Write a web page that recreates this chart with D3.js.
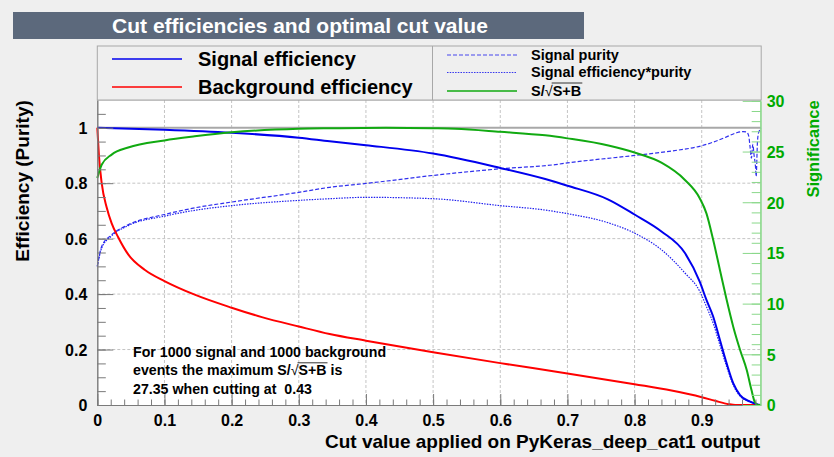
<!DOCTYPE html>
<html>
<head>
<meta charset="utf-8">
<script src="https://cdn.jsdelivr.net/npm/d3@7"></script>
<style>
  html, body { margin: 0; padding: 0; background: #efefef; }
  svg { display: block; font-family: "Liberation Sans", Arial, Helvetica, sans-serif; font-weight: bold; }
</style>
</head>
<body>
<svg id="chart" width="834" height="457"></svg>
<script>
// Signal efficiency vs. cut value
const sigEffCut = [0, 0.1, 0.2, 0.3, 0.346, 0.4, 0.5, 0.6, 0.667, 0.7, 0.761, 0.8, 0.84, 0.875, 0.897, 0.907, 0.917, 0.927, 0.937, 0.947, 0.957, 0.972, 0.982, 0.988];
const sigEff    = [1.0, 0.993, 0.982, 0.964, 0.951, 0.937, 0.907, 0.855, 0.815, 0.791, 0.741, 0.687, 0.626, 0.548, 0.445, 0.379, 0.319, 0.235, 0.151, 0.078, 0.036, 0.012, 0.003, 0.0];

// Background efficiency vs. cut value
const bkgEffCut = [0, 0.0025, 0.0065, 0.014, 0.0214, 0.0313, 0.046, 0.071, 0.1, 0.145, 0.2, 0.245, 0.3, 0.346, 0.4, 0.5, 0.6, 0.7, 0.8, 0.855, 0.9, 0.92, 0.94, 0.95, 0.988];
const bkgEff    = [1.0, 0.897, 0.801, 0.712, 0.655, 0.604, 0.543, 0.487, 0.447, 0.398, 0.351, 0.317, 0.283, 0.256, 0.232, 0.19, 0.151, 0.114, 0.075, 0.052, 0.028, 0.015, 0.003, 0.0, 0.0];

// Signal purity vs. cut value
const purityCut = [0, 0.0065, 0.0214, 0.046, 0.1, 0.145, 0.2, 0.3, 0.346, 0.4, 0.5, 0.6, 0.682, 0.7, 0.8, 0.855, 0.9, 0.917, 0.937, 0.952, 0.962, 0.967, 0.970, 0.972, 0.974, 0.976, 0.978, 0.980, 0.981, 0.983, 0.984, 0.986, 0.988];
const purity    = [0.5, 0.572, 0.614, 0.65, 0.687, 0.711, 0.732, 0.767, 0.785, 0.799, 0.828, 0.852, 0.867, 0.873, 0.9, 0.916, 0.935, 0.948, 0.967, 0.982, 0.986, 0.984, 0.97, 0.93, 0.89, 0.94, 0.9, 0.86, 0.825, 0.95, 0.975, 0.99, 1.0];

// Signal efficiency * purity vs. cut value
const effPurCut = [0, 0.0065, 0.0214, 0.046, 0.1, 0.145, 0.2, 0.3, 0.346, 0.4, 0.5, 0.6, 0.667, 0.7, 0.761, 0.8, 0.84, 0.875, 0.897, 0.907, 0.917, 0.927, 0.937, 0.947, 0.957, 0.972, 0.982, 0.988];
const effPur    = [0.5, 0.566, 0.61, 0.647, 0.681, 0.702, 0.719, 0.738, 0.744, 0.749, 0.744, 0.719, 0.703, 0.69, 0.657, 0.62, 0.56, 0.476, 0.41, 0.355, 0.295, 0.217, 0.139, 0.072, 0.032, 0.012, 0.003, 0.0];

// Significance S/sqrt(S+B) vs. cut value (right axis)
const signifCut = [0, 0.0065, 0.0214, 0.046, 0.1, 0.145, 0.2, 0.3, 0.35, 0.43, 0.5, 0.533, 0.6, 0.667, 0.7, 0.761, 0.8, 0.84, 0.875, 0.897, 0.907, 0.917, 0.927, 0.937, 0.947, 0.957, 0.967, 0.974, 0.979, 0.984, 0.988];
const signif    = [22.4, 23.7, 24.7, 25.4, 26.1, 26.5, 26.9, 27.25, 27.3, 27.35, 27.3, 27.25, 26.95, 26.6, 26.3, 25.6, 24.9, 23.9, 22.2, 20.4, 18.9, 16.3, 13.35, 10.4, 7.7, 5.45, 3.45, 1.5, 0.3, 0.0, 0.0];

// Optimum
const maxSignif = 27.35;
const bestCut = 0.43;
const nSignal = 1000;
const nBackground = 1000;

// Axis ticks
const xTicks = [0, 0.1, 0.2, 0.3, 0.4, 0.5, 0.6, 0.7, 0.8, 0.9];
const yTicks = [0, 0.2, 0.4, 0.6, 0.8, 1];
const sigTicks = [0, 5, 10, 15, 20, 25, 30];

const svg = d3.select("#chart");
const W = 834, H = 457;
const plotL = 97.3, plotR = 760.7, plotT = 100, plotB = 405;

svg.append("rect").attr("width", W).attr("height", H).attr("fill", "#efefef");

const x = d3.scaleLinear().domain([0, 0.9878]).range([plotL, plotR]);
const y = d3.scaleLinear().domain([0, 1.1]).range([plotB, plotT]);
// significance axis: maximum significance sits at efficiency 1
const ys = d3.scaleLinear().domain([0, maxSignif]).range([y(0), y(1)]);

// plot frame
svg.append("rect").attr("x", plotL).attr("y", plotT).attr("width", plotR - plotL).attr("height", plotB - plotT)
  .attr("fill", "#ffffff");

// grid
const grid = svg.append("g").attr("stroke", "#c4c4c4").attr("stroke-width", 1).attr("stroke-dasharray", "3,2");
grid.selectAll("line.gx").data(xTicks.filter(d => d > 0)).join("line")
  .attr("x1", d => x(d)).attr("x2", d => x(d)).attr("y1", plotT).attr("y2", plotB);
grid.selectAll("line.gy").data(yTicks.filter(d => d > 0 && d < 1)).join("line")
  .attr("x1", plotL).attr("x2", plotR).attr("y1", d => y(d)).attr("y2", d => y(d));

// top frame line and the efficiency = 1 line
svg.append("line").attr("x1", plotL).attr("x2", plotR).attr("y1", plotT).attr("y2", plotT)
  .attr("stroke", "#b0b0b0").attr("stroke-width", 1);
svg.append("line").attr("x1", plotL).attr("x2", plotR).attr("y1", y(1)).attr("y2", y(1))
  .attr("stroke", "#a8a8a8").attr("stroke-width", 2);

// curves
function drawCurve(xs, vs, scale, color, width, dash) {
  const pts = xs.map((c, i) => [c, vs[i]]);
  const line = d3.line().x(d => x(d[0])).y(d => scale(d[1])).curve(d3.curveMonotoneX);
  svg.append("path").attr("d", line(pts)).attr("fill", "none")
    .attr("stroke", color).attr("stroke-width", width)
    .attr("stroke-dasharray", dash || null).attr("stroke-linejoin", "round");
}
drawCurve(purityCut, purity, y, "#3030ee", 1.2, "4,2");
drawCurve(effPurCut, effPur, y, "#2020ee", 1.2, "1.5,1.2");
drawCurve(bkgEffCut, bkgEff, y, "#ff0000", 2);
drawCurve(sigEffCut, sigEff, y, "#0000ee", 2);
drawCurve(signifCut, signif, ys, "#11aa11", 2);

// axes
const axisGray = "#7a7a7a";
function styleAxis(g, color) {
  g.selectAll("path.domain").attr("stroke", color);
  g.selectAll(".tick line").attr("stroke", color);
  g.selectAll("text").attr("font-size", 16).attr("font-weight", "bold")
    .attr("font-family", "Liberation Sans, Arial, sans-serif");
}
const minorY = d3.range(0, 22).map(i => i * 0.05);
const gyMinor = svg.append("g").attr("transform", `translate(${plotL},0)`)
  .call(d3.axisLeft(y).tickValues(minorY).tickSize(-8.5).tickSizeOuter(0).tickFormat(""));
styleAxis(gyMinor, axisGray);
const gy = svg.append("g").attr("transform", `translate(${plotL},0)`)
  .call(d3.axisLeft(y).tickValues(yTicks).tickSize(-16).tickSizeOuter(0).tickPadding(10).tickFormat(d => String(d)));
styleAxis(gy, axisGray);
gy.selectAll("text").attr("fill", "#000").attr("dy", "0.36em");

const minorX = d3.range(0, 50).map(i => i * 0.02);
const gxMinor = svg.append("g").attr("transform", `translate(0,${plotB})`)
  .call(d3.axisBottom(x).tickValues(minorX).tickSize(-5.5).tickSizeOuter(0).tickFormat(""));
styleAxis(gxMinor, axisGray);
const gx = svg.append("g").attr("transform", `translate(0,${plotB})`)
  .call(d3.axisBottom(x).tickValues(xTicks).tickSize(-11).tickSizeOuter(0).tickPadding(10).tickFormat(d => String(d)));
styleAxis(gx, axisGray);
gx.selectAll("text").attr("fill", "#000").attr("dy", "0.71em");

const sigAxisScale = d3.scaleLinear().domain([0, 30]).range([ys(0), ys(30)]);
const minorS = d3.range(0, 31);
const gsMinor = svg.append("g").attr("transform", `translate(${plotR},0)`)
  .call(d3.axisRight(sigAxisScale).tickValues(minorS).tickSize(-9).tickSizeOuter(0).tickFormat(""));
styleAxis(gsMinor, "#8ad88a");
const gs = svg.append("g").attr("transform", `translate(${plotR},0)`)
  .call(d3.axisRight(sigAxisScale).tickValues(sigTicks).tickSize(-18).tickSizeOuter(0).tickPadding(6).tickFormat(d => String(d)));
styleAxis(gs, "#8ad88a");
gs.selectAll("text").attr("fill", "#00aa00").attr("dy", "0.36em");
gs.select("path.domain").attr("d", `M0,${plotB}V${plotT}`);

// axis titles
svg.append("text").attr("transform", `translate(29,181) rotate(-90)`).attr("text-anchor", "middle")
  .attr("font-size", 19).text("Efficiency (Purity)");
svg.append("text").attr("transform", `translate(819,149) rotate(-90)`).attr("text-anchor", "middle")
  .attr("font-size", 16.5).attr("fill", "#00aa00").text("Significance");
svg.append("text").attr("x", 760).attr("y", 448).attr("text-anchor", "end")
  .attr("font-size", 19).text("Cut value applied on PyKeras_deep_cat1 output");

// title box
svg.append("rect").attr("x", 13).attr("y", 12).attr("width", 571).attr("height", 27).attr("fill", "#5c697c");
svg.append("text").attr("x", 300).attr("y", 32.5).attr("text-anchor", "middle").attr("fill", "#ffffff")
  .attr("font-size", 21).text("Cut efficiencies and optimal cut value");

// legend box
const lg = svg.append("g");
lg.append("rect").attr("x", plotL).attr("y", 46).attr("width", plotR - plotL + 0.5).attr("height", plotT - 46)
  .attr("fill", "#efefef").attr("stroke", "#a8a8a8").attr("stroke-width", 1);
lg.append("line").attr("x1", 432.5).attr("x2", 432.5).attr("y1", 46).attr("y2", plotT)
  .attr("stroke", "#a8a8a8").attr("stroke-width", 1);

const legLeft = [
  { label: "Signal efficiency", color: "#0000ee", y: 59 },
  { label: "Background efficiency", color: "#ff0000", y: 87 }
];
legLeft.forEach(e => {
  lg.append("line").attr("x1", 112).attr("x2", 182).attr("y1", e.y).attr("y2", e.y)
    .attr("stroke", e.color).attr("stroke-width", 1.6);
  lg.append("text").attr("x", 198).attr("y", e.y + 7).attr("font-size", 20).text(e.label);
});

function sqrtLabel(sel, prefix, suffix) {
  // S/√(S+B) with a bar over the radicand
  sel.append("tspan").text(prefix + "S/");
  sel.append("tspan").attr("font-weight", "normal").text("√");
  sel.append("tspan").text("S+B");
  if (suffix) sel.append("tspan").text(suffix);
  const node = sel.node();
  const txt = node.textContent;
  const start = txt.indexOf("S+B", prefix.length);
  const x0 = node.getStartPositionOfChar(start).x;
  const x1 = node.getEndPositionOfChar(start + 2).x;
  const bb = node.getBBox();
  d3.select(node.parentNode).append("line").attr("x1", x0 - 1).attr("x2", x1 + 1)
    .attr("y1", bb.y + 0.5).attr("y2", bb.y + 0.5)
    .attr("stroke", "#000").attr("stroke-width", 0.8);
}

const legRight = [
  { label: "Signal purity", color: "#4646ee", dash: "4,2", y: 55, ty: 59.5 },
  { label: "Signal efficiency*purity", color: "#3535ee", dash: "1.5,1.2", y: 72.5, ty: 77 },
  { label: null, color: "#11aa11", dash: null, y: 91, ty: 95.5 }
];
legRight.forEach(e => {
  lg.append("line").attr("x1", 447).attr("x2", 517).attr("y1", e.y).attr("y2", e.y)
    .attr("stroke", e.color).attr("stroke-width", e.dash ? 1.2 : 1.6)
    .attr("stroke-dasharray", e.dash);
  const t = lg.append("text").attr("x", 531).attr("y", e.ty).attr("font-size", 14.5);
  if (e.label) t.text(e.label); else sqrtLabel(t, "", "");
});

// annotation
const ann = svg.append("g").attr("font-size", 14.2);
ann.append("text").attr("x", 133).attr("y", 357).text(`For ${nSignal} signal and ${nBackground} background`);
const l2 = ann.append("text").attr("x", 133).attr("y", 375.3);
sqrtLabel(l2, "events the maximum ", " is");
ann.append("text").attr("x", 133).attr("y", 393.6).attr("xml:space", "preserve")
  .text(`${maxSignif.toFixed(2)} when cutting at  ${bestCut.toFixed(2)}`);
</script>
</body>
</html>
